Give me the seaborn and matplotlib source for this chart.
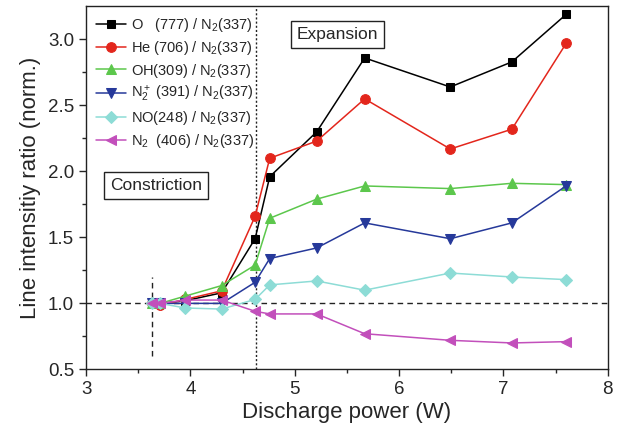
import numpy as np
import pandas as pd
import seaborn as sns
import matplotlib.pyplot as plt

# discharge power (W)
power = [3.63, 3.71, 3.95, 4.30, 4.62, 4.76, 5.21, 5.67, 6.49, 7.08, 7.60]

o_777 = [1.0, 1.0, 1.02, 1.08, 1.49, 1.96, 2.30, 2.86, 2.64, 2.83, 3.19]
he_706 = [1.0, 0.985, 1.03, 1.095, 1.66, 2.10, 2.23, 2.55, 2.17, 2.32, 2.97]
oh_309 = [1.0, 1.0, 1.055, 1.135, 1.29, 1.645, 1.79, 1.89, 1.87, 1.91, 1.90]
n2p_391 = [1.0, 1.0, 1.0, 1.0, 1.16, 1.34, 1.42, 1.61, 1.49, 1.61, 1.89]
no_248 = [1.0, 1.0, 0.965, 0.957, 1.03, 1.14, 1.17, 1.10, 1.23, 1.20, 1.18]
n2_406 = [1.0, 1.0, 1.025, 1.025, 0.94, 0.92, 0.92, 0.77, 0.72, 0.70, 0.71]

labels = [r'O   (777) / N$_2$(337)',
          r'He (706) / N$_2$(337)',
          r'OH(309) / N$_2$(337)',
          r'N$_2^+$ (391) / N$_2$(337)',
          r'NO(248) / N$_2$(337)',
          r'N$_2$  (406) / N$_2$(337)']
series = [o_777, he_706, oh_309, n2p_391, no_248, n2_406]
colors = ['#000000', '#e3261c', '#5cc74c', '#26399a', '#8ddcd6', '#c24fbb']
markers = ['s', 'o', '^', 'v', 'D', '<']
msizes = [6, 7, 7, 7, 6, 7]

# reference lines
transition_power = 4.63
start_power = 3.63

sns.set_style("ticks")
plt.rcParams['font.family'] = ['Liberation Sans', 'DejaVu Sans']
plt.rcParams['mathtext.fontset'] = 'custom'
plt.rcParams['mathtext.rm'] = 'Liberation Sans'
plt.rcParams['mathtext.it'] = 'Liberation Sans:italic'

fig, ax = plt.subplots(figsize=(6.19, 4.33), dpi=100)
fig.subplots_adjust(left=0.139, right=0.982, bottom=0.147, top=0.985)

ax.axhline(1.0, color='#222222', ls=(0, (4, 3)), lw=1.0, zorder=1)
ax.axvline(transition_power, color='#222222', ls=(0, (1.5, 1.5)), lw=1.0, zorder=1)
ax.plot([start_power, start_power], [0.6, 1.2], color='#222222', ls=(0, (4, 3)), lw=1.0, zorder=1)

for vals, lab, c, m, ms in zip(series, labels, colors, markers, msizes):
    sns.lineplot(x=power, y=vals, ax=ax, color=c, marker=m, markersize=ms,
                 markeredgecolor=c, lw=1.1, label=lab, zorder=3)

# open He marker at the second point
ax.plot(power[1], he_706[1], 'o', ms=6, mfc='white', mec=colors[1], mew=1.2, zorder=2.5)

ax.set_xlim(3, 8)
ax.set_ylim(0.5, 3.25)
ax.set_xticks(np.arange(3, 8.1, 1))
ax.set_xticks(np.arange(3.5, 8, 1), minor=True)
ax.set_yticks(np.arange(0.5, 3.1, 0.5))
ax.set_yticks(np.arange(0.75, 3.25, 0.5), minor=True)
ax.tick_params(axis='both', which='major', labelsize=13.5, length=5, width=1, direction='out')
ax.tick_params(axis='both', which='minor', length=3, width=1, direction='out')
for s in ax.spines.values():
    s.set_linewidth(1.0)
    s.set_color('#222222')

ax.set_xlabel('Discharge power (W)', fontsize=16, labelpad=3)
ax.set_ylabel('Line intensitiy ratio (norm.)', fontsize=16, labelpad=5)

box = dict(boxstyle='square,pad=0.35', fc='white', ec='#222222', lw=1.0)
ax.text(5.41, 3.04, 'Expansion', ha='center', va='center', fontsize=12.5, bbox=box)
ax.text(3.67, 1.895, 'Constriction', ha='center', va='center', fontsize=12.5, bbox=box)

leg = ax.legend(loc='upper left', frameon=False, fontsize=10.5, handlelength=2.1,
                handletextpad=0.3, labelspacing=0.33, borderaxespad=0.1,
                borderpad=0.55, bbox_to_anchor=(0.0, 1.0))

fig.savefig('out.png', dpi=100)
